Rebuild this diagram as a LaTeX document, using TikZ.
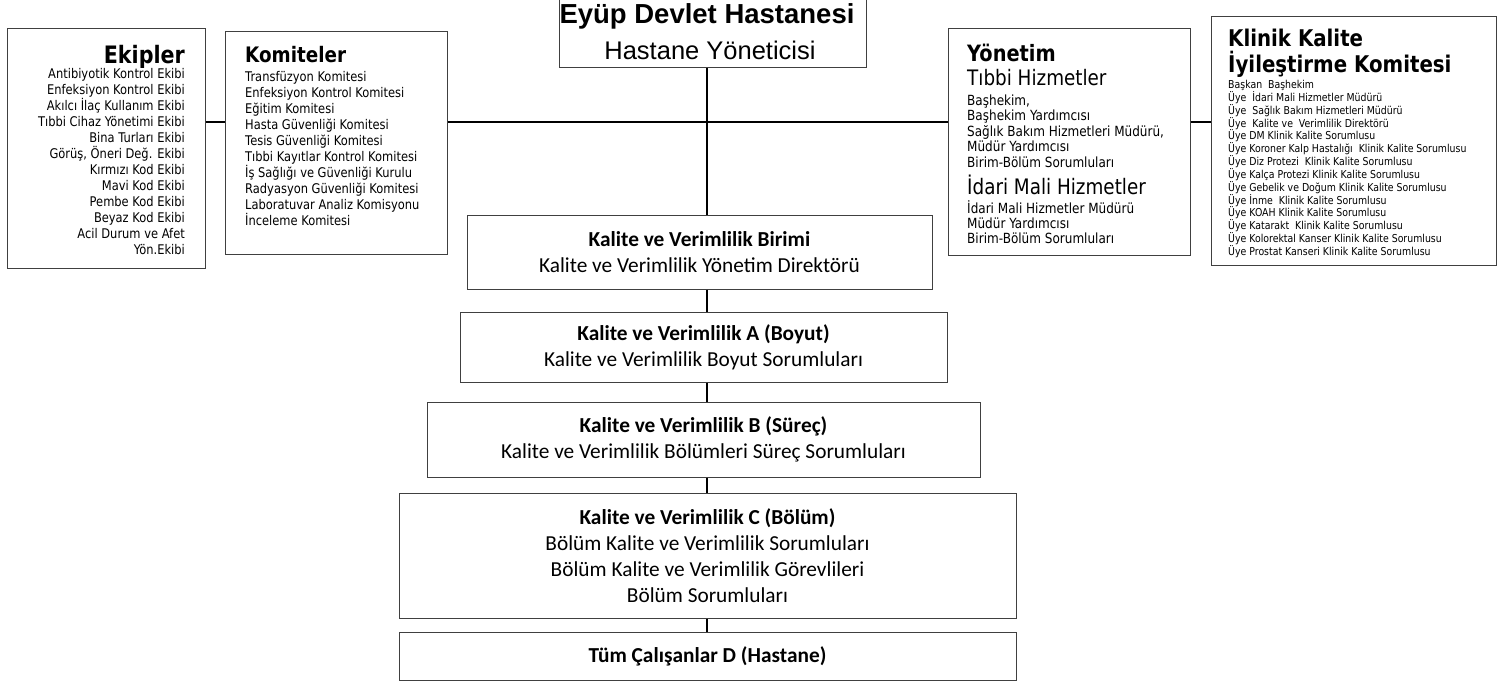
\documentclass[tikz,border=0pt]{standalone}
\usepackage{fontspec}
\newfontfamily\tahfont{DejaVu Sans}[FakeStretch=0.86]
\newfontfamily\calfont{Carlito}
\newfontfamily\arifont{Liberation Sans}
\begin{document}
\begin{tikzpicture}[x=1pt,y=-1pt,
  box/.style={draw=black!75, line width=1pt, inner sep=0pt, fill=white},
  midbox/.style={box, align=center, font=\calfont\fontsize{21.33}{26}\selectfont},
  conn/.style={draw=black, line width=1.3pt},
  txt/.style={inner sep=0pt},
  listR/.style={txt, align=right, font=\tahfont\fontsize{13.33}{16}\selectfont},
  listL/.style={txt, align=left, font=\tahfont\fontsize{13.33}{15.7}\selectfont},
  head/.style={txt, font=\tahfont\bfseries\fontsize{21.33}{23}\selectfont},
  big/.style={txt, font=\tahfont\fontsize{21.33}{25}\selectfont},
  small/.style={txt, align=left, font=\tahfont\fontsize{10.9}{12.85}\selectfont}]
\useasboundingbox (0,0) rectangle (1510,685);
\coordinate (spine) at (707,122);

% boxes
\node[box, minimum width=307pt, minimum height=70pt] (title) at (712.5,33) {};
\node[box, minimum width=198pt, minimum height=239pt] (ekipler) at (106,148.5) {};
\node[box, minimum width=222pt, minimum height=222pt] (komiteler) at (336,143) {};
\node[box, minimum width=242pt, minimum height=226pt] (yonetim) at (1069,142) {};
\node[box, minimum width=285pt, minimum height=248pt] (klinik) at (1353.5,141) {};

% connectors
\draw[conn] (title.south -| spine) -- (spine);
\draw[conn] (ekipler.east |- spine) -- (komiteler.west |- spine);
\draw[conn] (komiteler.east |- spine) -- (yonetim.west |- spine);
\draw[conn] (yonetim.east |- spine) -- (klinik.west |- spine);

% title texts
\node[txt, font=\arifont\bfseries\fontsize{27.5}{30}\selectfont] (titleA) at (707,16) {Eyüp Devlet Hastanesi};
\node[txt, font=\arifont\fontsize{25.5}{30}\selectfont] (titleB) at (710,50) {Hastane Yöneticisi};

% Ekipler
\node[head, anchor=east, font=\tahfont\bfseries\fontsize{24}{26}\selectfont] (ekiplerH) at (185,57) {Ekipler};
\node[listR, anchor=east] (ekiplerL) at (185,162) {Antibiyotik Kontrol Ekibi\\Enfeksiyon Kontrol Ekibi\\Akılcı İlaç Kullanım Ekibi\\Tıbbi Cihaz Yönetimi Ekibi\\Bina Turları Ekibi\\Görüş, Öneri Değ. Ekibi\\Kırmızı Kod Ekibi\\Mavi Kod Ekibi\\Pembe Kod Ekibi\\Beyaz Kod Ekibi\\Acil Durum ve Afet\\Yön.Ekibi};

% Komiteler
\node[head, anchor=west] (komitelerH) at (245,55) {Komiteler};
\node[listL, anchor=west, font=\tahfont\fontsize{13.33}{15.9}\selectfont] (komitelerL) at (245,148.5) {Transfüzyon Komitesi\\Enfeksiyon Kontrol Komitesi\\Eğitim Komitesi\\Hasta Güvenliği Komitesi\\Tesis Güvenliği Komitesi\\Tıbbi Kayıtlar Kontrol Komitesi\\İş Sağlığı ve Güvenliği Kurulu\\Radyasyon Güvenliği Komitesi\\Laboratuvar Analiz Komisyonu\\İnceleme Komitesi};

% Yonetim
\node[head, anchor=west, font=\tahfont\bfseries\fontsize{22.5}{24}\selectfont] (yonetimH) at (967,53) {Yönetim};
\node[big, anchor=west] (tibbi) at (967,78) {Tıbbi Hizmetler};
\node[listL, anchor=west, font=\tahfont\fontsize{14}{15.6}\selectfont] (tibbiL) at (967,131) {Başhekim,\\Başhekim Yardımcısı\\Sağlık Bakım Hizmetleri Müdürü,\\Müdür Yardımcısı\\Birim-Bölüm Sorumluları};
\node[big, anchor=west] (idari) at (967,185) {İdari Mali Hizmetler};
\node[listL, anchor=west, font=\tahfont\fontsize{14}{15}\selectfont] (idariL) at (967,222) {İdari Mali Hizmetler Müdürü\\Müdür Yardımcısı\\Birim-Bölüm Sorumluları};

% Klinik
\node[head, anchor=west, align=left, font=\tahfont\bfseries\fontsize{23}{26}\selectfont] (klinikH) at (1228,53) {Klinik Kalite\\İyileştirme Komitesi};
\node[small, anchor=west] (klinikL) at (1228,169) {Başkan~ Başhekim\\Üye~ İdari Mali Hizmetler Müdürü\\Üye~ Sağlık Bakım Hizmetleri Müdürü\\Üye~ Kalite ve~ Verimlilik Direktörü\\Üye DM Klinik Kalite Sorumlusu\\Üye Koroner Kalp Hastalığı~ Klinik Kalite Sorumlusu\\Üye Diz Protezi~ Klinik Kalite Sorumlusu\\Üye Kalça Protezi Klinik Kalite Sorumlusu\\Üye Gebelik ve Doğum Klinik Kalite Sorumlusu\\Üye İnme~ Klinik Kalite Sorumlusu\\Üye KOAH Klinik Kalite Sorumlusu\\Üye Katarakt~ Klinik Kalite Sorumlusu\\Üye Kolorektal Kanser Klinik Kalite Sorumlusu\\Üye Prostat Kanseri Klinik Kalite Sorumlusu};

% middle chain
\node[midbox, minimum width=465pt, minimum height=74pt] (birimi) at (699.5,252) {\textbf{Kalite ve Verimlilik Birimi}\\Kalite ve Verimlilik Yönetim Direktörü};
\node[midbox, minimum width=487pt, minimum height=70pt] (boyut) at (703.5,347) {\textbf{Kalite ve Verimlilik A (Boyut)}\\Kalite ve Verimlilik Boyut Sorumluları};
\node[midbox, minimum width=553pt, minimum height=75pt] (surec) at (703.5,439.5) {\textbf{Kalite ve Verimlilik B (Süreç)}\\Kalite ve Verimlilik Bölümleri Süreç Sorumluları};
\node[midbox, minimum width=617pt, minimum height=125pt] (bolum) at (707.5,555.5) {\textbf{Kalite ve Verimlilik C (Bölüm)}\\Bölüm Kalite ve Verimlilik Sorumluları\\Bölüm Kalite ve Verimlilik Görevlileri\\Bölüm Sorumluları};
\node[midbox, minimum width=617pt, minimum height=48pt] (hastane) at (707.5,656) {\textbf{Tüm Çalışanlar D (Hastane)}};

\draw[conn] (spine) -- (birimi.north -| spine);
\draw[conn] (birimi.south -| spine) -- (boyut.north -| spine);
\draw[conn] (boyut.south -| spine) -- (surec.north -| spine);
\draw[conn] (surec.south -| spine) -- (bolum.north -| spine);
\draw[conn] (bolum.south -| spine) -- (hastane.north -| spine);
\end{tikzpicture}
\end{document}
